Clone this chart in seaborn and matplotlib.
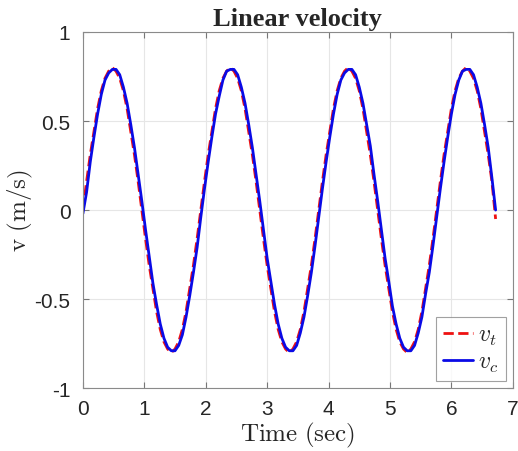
import matplotlib
matplotlib.use("Agg")
import matplotlib.pyplot as plt
import seaborn as sns
import pandas as pd

# sample times (sec)
time = [0.00, 0.06, 0.12, 0.18, 0.24, 0.30, 0.36, 0.42, 0.48, 0.54, 0.60, 0.66, 0.72, 0.78, 0.84, 0.90,
        0.96, 1.02, 1.08, 1.14, 1.20, 1.26, 1.32, 1.38, 1.44, 1.50, 1.56, 1.62, 1.68, 1.74, 1.80, 1.86,
        1.92, 1.98, 2.04, 2.10, 2.16, 2.22, 2.28, 2.34, 2.40, 2.46, 2.52, 2.58, 2.64, 2.70, 2.76, 2.82,
        2.88, 2.94, 3.00, 3.06, 3.12, 3.18, 3.24, 3.30, 3.36, 3.42, 3.48, 3.54, 3.60, 3.66, 3.72, 3.78,
        3.84, 3.90, 3.96, 4.02, 4.08, 4.14, 4.20, 4.26, 4.32, 4.38, 4.44, 4.50, 4.56, 4.62, 4.68, 4.74,
        4.80, 4.86, 4.92, 4.98, 5.04, 5.10, 5.16, 5.22, 5.28, 5.34, 5.40, 5.46, 5.52, 5.58, 5.64, 5.70,
        5.76, 5.82, 5.88, 5.94, 6.00, 6.06, 6.12, 6.18, 6.24, 6.30, 6.36, 6.42, 6.48, 6.54, 6.60, 6.66,
        6.72]

# target velocity v_t (m/s)
v_target = [0.00, 0.16, 0.31, 0.44, 0.57, 0.67, 0.74, 0.78, 0.80, 0.78, 0.74, 0.67, 0.57, 0.44, 0.31, 0.16,
            0.00, -0.16, -0.31, -0.44, -0.57, -0.67, -0.74, -0.78, -0.80, -0.78, -0.74, -0.67, -0.57, -0.44, -0.31, -0.16,
            0.00, 0.16, 0.31, 0.44, 0.57, 0.67, 0.74, 0.78, 0.80, 0.78, 0.74, 0.67, 0.57, 0.44, 0.31, 0.16,
            0.00, -0.16, -0.31, -0.44, -0.57, -0.67, -0.74, -0.78, -0.80, -0.78, -0.74, -0.67, -0.57, -0.44, -0.31, -0.16,
            0.00, 0.16, 0.31, 0.44, 0.57, 0.67, 0.74, 0.78, 0.80, 0.78, 0.74, 0.67, 0.57, 0.44, 0.31, 0.16,
            0.00, -0.16, -0.31, -0.44, -0.57, -0.67, -0.74, -0.78, -0.80, -0.78, -0.74, -0.67, -0.57, -0.44, -0.31, -0.16,
            0.00, 0.16, 0.31, 0.44, 0.57, 0.67, 0.74, 0.78, 0.80, 0.78, 0.74, 0.67, 0.57, 0.44, 0.31, 0.16,
            -0.05]

# measured velocity v_c (m/s)
v_current = [-0.02, 0.10, 0.27, 0.41, 0.54, 0.65, 0.73, 0.77, 0.79, 0.79, 0.76, 0.69, 0.60, 0.48, 0.35, 0.20,
             0.05, -0.11, -0.26, -0.41, -0.53, -0.64, -0.72, -0.77, -0.79, -0.79, -0.76, -0.70, -0.60, -0.48, -0.35, -0.21,
             -0.04, 0.12, 0.27, 0.41, 0.54, 0.64, 0.73, 0.78, 0.79, 0.79, 0.76, 0.69, 0.60, 0.48, 0.35, 0.20,
             0.05, -0.11, -0.27, -0.40, -0.53, -0.64, -0.72, -0.77, -0.79, -0.79, -0.76, -0.69, -0.60, -0.48, -0.35, -0.20,
             -0.04, 0.12, 0.27, 0.41, 0.54, 0.65, 0.73, 0.77, 0.79, 0.79, 0.76, 0.69, 0.60, 0.48, 0.36, 0.20,
             0.05, -0.11, -0.27, -0.40, -0.54, -0.64, -0.72, -0.77, -0.79, -0.79, -0.76, -0.69, -0.60, -0.47, -0.35, -0.20,
             -0.04, 0.12, 0.27, 0.41, 0.54, 0.65, 0.73, 0.78, 0.79, 0.79, 0.76, 0.69, 0.60, 0.48, 0.35, 0.18,
             0.00]

df = pd.DataFrame({"t": time, "vt": v_target, "vc": v_current})

sns.set_style("whitegrid")
plt.rcParams["font.family"] = ["Liberation Sans", "DejaVu Sans"]
plt.rcParams["mathtext.fontset"] = "cm"

fig = plt.figure(figsize=(5.18, 4.52), dpi=100)
ax = fig.add_axes([0.160, 0.139, 0.830, 0.788])

sns.lineplot(data=df, x="t", y="vt", ax=ax, color="#ee1111", linestyle="--",
             linewidth=2, label=r"$v_t$")
sns.lineplot(data=df, x="t", y="vc", ax=ax, color="#0a0ae6", linestyle="-",
             linewidth=2, label=r"$v_c$")

ax.set_xlim(0, 7)
ax.set_ylim(-1, 1)
ax.set_xticks(range(0, 8))
ax.set_yticks([-1, -0.5, 0, 0.5, 1])
ax.set_yticklabels(["-1", "-0.5", "0", "0.5", "1"])
ax.tick_params(labelsize=15, colors="#262626", direction="in", length=4,
               top=True, right=True, bottom=True, left=True, color="#777777")
ax.tick_params(axis="x", pad=8)
ax.tick_params(axis="y", pad=9)
ax.grid(True, color="#e6e6e6", linewidth=0.8)
for s in ax.spines.values():
    s.set_visible(True)
    s.set_color("#8a8a8a")
    s.set_linewidth(0.8)

ax.set_title("Linear velocity", fontsize=19, fontweight="bold",
             family="Liberation Serif", pad=5)
ax.set_xlabel(r"$\mathrm{Time\ (sec)}$", fontsize=18, labelpad=1)
ax.set_ylabel(r"$\mathrm{v\ (m/s)}$", fontsize=18)
ax.yaxis.set_label_coords(-0.112, 0.5)

leg = ax.legend(loc="lower right", fontsize=17, frameon=True, fancybox=False,
                handlelength=1.3, borderaxespad=0.3, handletextpad=0.2,
                labelspacing=0.15, borderpad=0.3)
leg.get_frame().set_edgecolor("#8a8a8a")
leg.get_frame().set_linewidth(0.8)

fig.savefig("out.png", dpi=100)
